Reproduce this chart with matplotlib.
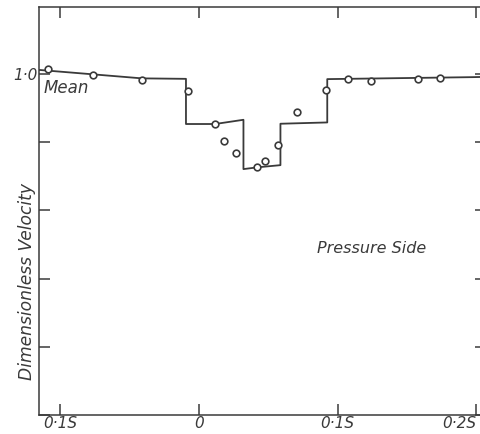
import matplotlib
matplotlib.use("Agg")
import matplotlib.pyplot as plt

# measured points (open circles), x in units of S
x_points = [-0.1092, -0.0763, -0.0412, -0.0082, 0.0116, 0.0183, 0.0267, 0.0421,
            0.0477, 0.0573, 0.0710, 0.0917, 0.1074, 0.1242, 0.1583, 0.1740]
y_points = [1.0069, 0.998, 0.9908, 0.9756, 0.9265, 0.902, 0.884, 0.863,
            0.8724, 0.8958, 0.9444, 0.9766, 0.9927, 0.9893, 0.9923, 0.9942]

# mean (stepped) curve
x_mean = [-0.1155, -0.0765, -0.0412, -0.0094, -0.0094, 0.0116, 0.0321, 0.0321,
          0.0421, 0.0588, 0.0588, 0.0926, 0.0926, 0.1978, 0.2072]
y_mean = [1.0058, 0.9993, 0.9934, 0.9927, 0.9265, 0.9265, 0.9327, 0.8604,
          0.863, 0.8662, 0.9269, 0.9288, 0.9923, 0.9952, 0.9956]

x_ticks = [-0.1, 0.0, 0.1, 0.2]
x_labels = ["0·1S", "0", "0·1S", "0·2S"]
y_ticks = [0.5, 0.6, 0.7, 0.8, 0.9, 1.0]
y_labels = ["", "", "", "", "", "1·0"]

ink = "#3a3a3a"

fig = plt.figure(figsize=(4.81, 4.34), dpi=100)
ax = fig.add_axes([39 / 481, 19 / 434, 447 / 481, 408 / 434])

ax.plot(x_mean, y_mean, color=ink, lw=1.3)
ax.plot(x_points, y_points, "o", mfc="white", mec=ink, mew=1.2, ms=4.8)

ax.set_xlim(-0.1155, 0.2072)
ax.set_ylim(0.5015, 1.098)

ax.set_xticks(x_ticks)
ax.set_xticklabels(x_labels, fontstyle="italic", fontsize=11, color=ink)
ax.get_xticklabels()[-1].set_horizontalalignment("right")
ax.set_yticks(y_ticks)
ax.set_yticklabels(y_labels, fontstyle="italic", fontsize=11, color=ink)

ax.tick_params(axis="both", direction="in", length=8, width=1.1, color=ink,
               top=True, right=True, pad=1)
for sp in ax.spines.values():
    sp.set_color(ink)
    sp.set_linewidth(1.1)

ax.text(-0.112, 0.979, "Mean", fontstyle="italic", fontsize=12, color=ink,
        va="center", ha="left")
ax.text(0.0855, 0.744, "Pressure Side", fontstyle="italic", fontsize=11.5, color=ink,
        va="center", ha="left")
fig.text(27 / 481, 1 - 281 / 434, "Dimensionless Velocity", rotation=90,
         fontstyle="italic", fontsize=12.3, color=ink, va="center", ha="center")

fig.savefig("out.png", dpi=100)
